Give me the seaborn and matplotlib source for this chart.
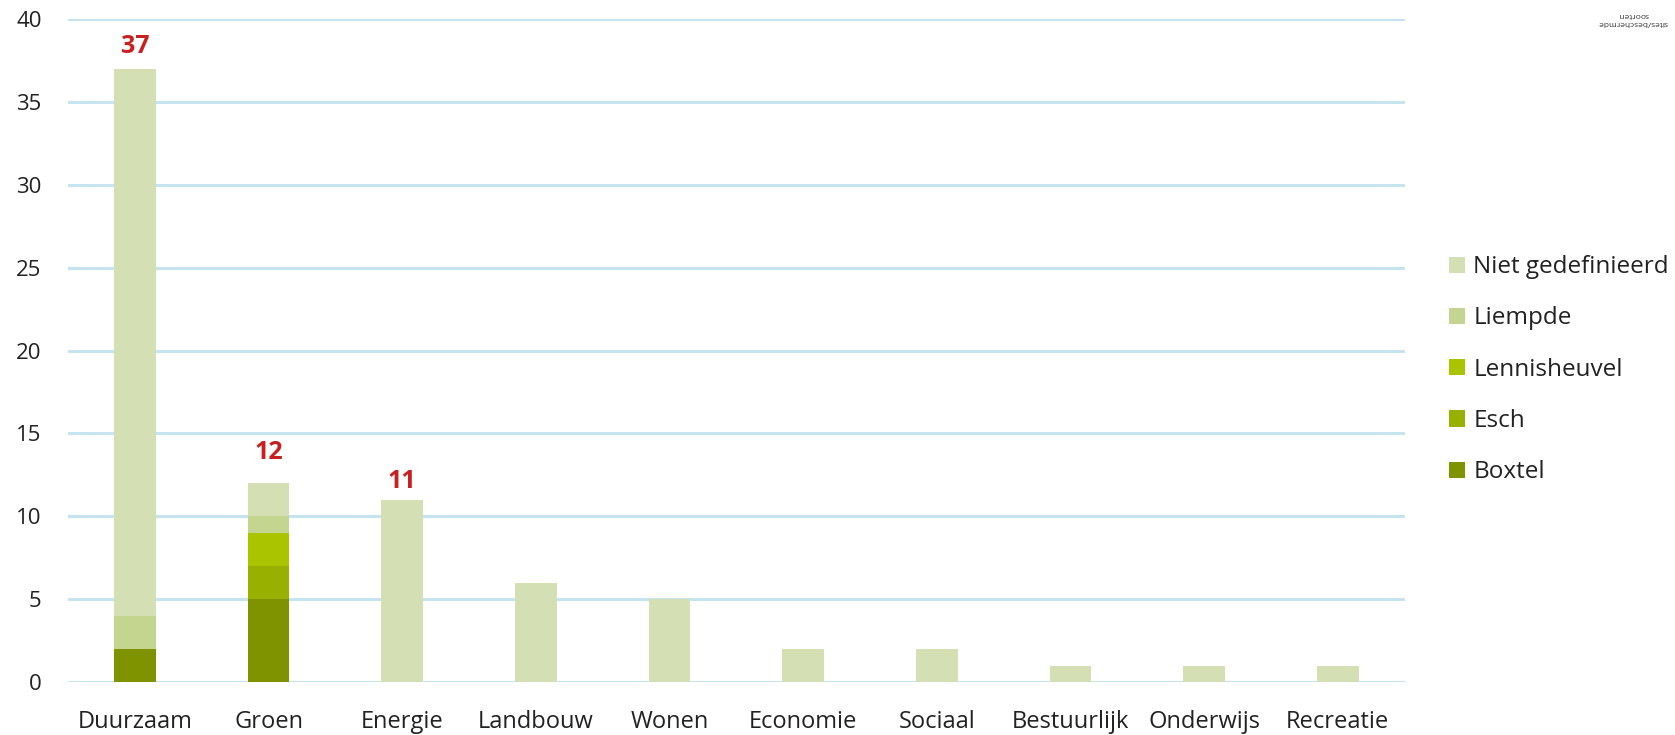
import matplotlib
matplotlib.use("Agg")
import matplotlib.pyplot as plt
from matplotlib.patches import Patch
import seaborn as sns
import numpy as np

categories = ["Duurzaam", "Groen", "Energie", "Landbouw", "Wonen",
              "Economie", "Sociaal", "Bestuurlijk", "Onderwijs", "Recreatie"]
boxtel       = [2, 5, 0, 0, 0, 0, 0, 0, 0, 0]
esch         = [0, 2, 0, 0, 0, 0, 0, 0, 0, 0]
lennisheuvel = [0, 2, 0, 0, 0, 0, 0, 0, 0, 0]
liempde      = [2, 1, 0, 0, 0, 0, 0, 0, 0, 0]
niet_gedef   = [33, 2, 11, 6, 5, 2, 2, 1, 1, 1]
labelled_totals = {"Duurzaam": 37, "Groen": 12, "Energie": 11}

series_names = ["Boxtel", "Esch", "Lennisheuvel", "Liempde", "Niet gedefinieerd"]
series_vals = [boxtel, esch, lennisheuvel, liempde, niet_gedef]
colors = ["#7F9300", "#98B000", "#AAC400", "#C3D58E", "#D5DFB4"]
label_offsets = {"Duurzaam": 16, "Groen": 22, "Energie": 13}  # points above bar

sns.set_style("white")
plt.rcParams["font.family"] = ["Open Sans", "DejaVu Sans"]

fig = plt.figure(figsize=(16.75, 7.35), dpi=100)
ax = fig.add_axes([0.0406, 0.072, 0.798, 0.902])

cum = np.cumsum(np.array(series_vals), axis=0)
# draw from top layer downward so lower layers overlay
for i in range(len(series_names) - 1, -1, -1):
    sns.barplot(x=categories, y=cum[i], color=colors[i], width=0.31,
                saturation=1, ax=ax, zorder=3, edgecolor="none", linewidth=0)

ax.set_ylim(0, 40)
ax.set_xlim(-0.5, len(categories) - 0.5)
ax.set_yticks(range(0, 41, 5))
ax.yaxis.grid(True, color="#C6E3F0", linewidth=2.2, zorder=0)
ax.xaxis.grid(False)
ax.set_axisbelow(True)
for s in ax.spines.values():
    s.set_visible(False)
ax.tick_params(axis="y", length=0, pad=19, labelsize=16, labelcolor="#222222")
ax.tick_params(axis="x", length=0, pad=20, labelsize=17, labelcolor="#222222")
ax.set_xlabel("")
ax.set_ylabel("")

for i, c in enumerate(categories):
    if c in labelled_totals:
        ax.annotate(str(labelled_totals[c]), xy=(i, cum[-1][i]),
                    xytext=(0, label_offsets[c]),
                    textcoords="offset points", ha="center", va="center",
                    fontsize=18, fontweight="bold", color="#C8201E")

handles = [Patch(facecolor=colors[i], edgecolor="none", label=series_names[i])
           for i in range(len(series_names) - 1, -1, -1)]
fig.legend(handles=handles, loc="center left", bbox_to_anchor=(0.852, 0.497),
           frameon=False, fontsize=17.5, handlelength=0.65, handleheight=0.65,
           handletextpad=0.35, labelspacing=1.12, labelcolor="#222222")

# fragment of logo in top-right corner (upside down)
fig.text(0.975, 0.985, "sites/beschermde\nsoorten", rotation=180, ha="center",
         va="top", fontsize=6, color="#333333")

fig.savefig("out.png", dpi=100)
